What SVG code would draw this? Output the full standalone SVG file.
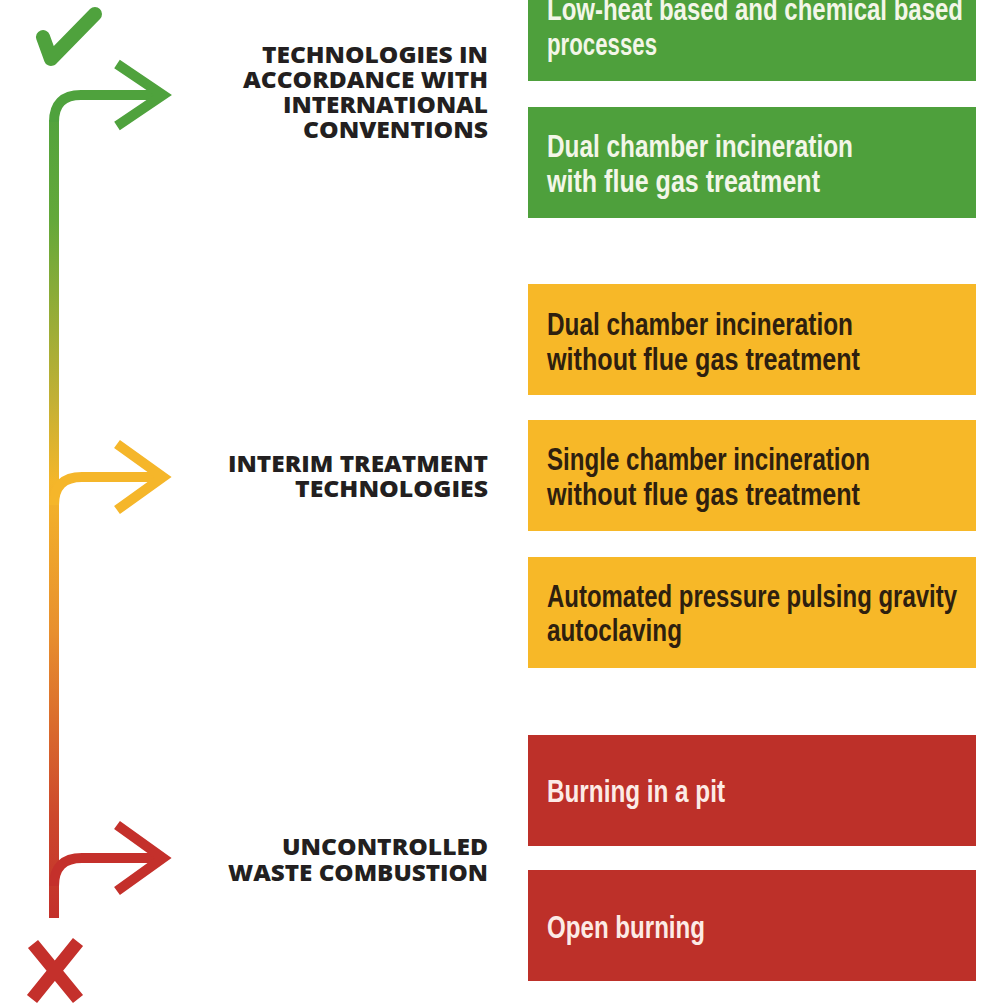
<svg xmlns="http://www.w3.org/2000/svg" width="983" height="1005" viewBox="0 0 983 1005">
<defs>
<linearGradient id="spine" gradientUnits="userSpaceOnUse" x1="0" y1="95" x2="0" y2="918">
<stop offset="0" stop-color="#4fa23d"/>
<stop offset="0.15" stop-color="#63a83a"/>
<stop offset="0.37" stop-color="#c2b035"/>
<stop offset="0.47" stop-color="#f4b62a"/>
<stop offset="0.65" stop-color="#e8902e"/>
<stop offset="0.88" stop-color="#cc472c"/>
<stop offset="1" stop-color="#c3302b"/>
</linearGradient>
<style>
.box-g{fill:#4ea03c}
.box-y{fill:#f7b828}
.box-r{fill:#bd3029}
.bt{font-family:"Liberation Sans Narrow","Liberation Sans",Arial,sans-serif;font-weight:700;font-size:31px}
.bt-g{fill:#f3f6e8}
.bt-y{fill:#2e1f0f}
.bt-r{fill:#fcebe6}
.lbl{font-family:"Open Sans","Liberation Sans",sans-serif;font-weight:800;font-size:23px;fill:#231f20;text-anchor:end}
.arr{fill:none;stroke-width:10;stroke-linejoin:miter;stroke-miterlimit:10}
</style>
</defs>
<rect width="983" height="1005" fill="#ffffff"/>

<g id="connectors">
<path d="M54,918 V120" stroke="url(#spine)" stroke-width="10" fill="none"/>
<path class="arr" d="M54,122 Q54,95 81,95 H160" stroke="#4fa23d"/>
<path class="arr" d="M117,64 L163,95 L117,126" stroke="#4fa23d"/>
<path class="arr" d="M54,505 Q54,477 82,477 H160" stroke="#f5b62a"/>
<path class="arr" d="M117,444 L163,477 L117,510" stroke="#f5b62a"/>
<path class="arr" d="M54,886 Q54,858 82,858 H160" stroke="#c4302b"/>
<path class="arr" d="M117,825 L163,858 L117,891" stroke="#c4302b"/>
</g>

<g id="check">
<path d="M43,37 L51,59 L95,14" fill="none" stroke="#4fa23d" stroke-width="14" stroke-linecap="round" stroke-linejoin="round"/>
</g>
<g id="cross">
<path d="M33,944 L78,999 M78,942 L32,999" fill="none" stroke="#c4302b" stroke-width="13"/>
</g>

<g id="label-international">
<text class="lbl" x="488" y="63" textLength="226" lengthAdjust="spacingAndGlyphs">TECHNOLOGIES IN</text>
<text class="lbl" x="488" y="88" textLength="245" lengthAdjust="spacingAndGlyphs">ACCORDANCE WITH</text>
<text class="lbl" x="488" y="113" textLength="205" lengthAdjust="spacingAndGlyphs">INTERNATIONAL</text>
<text class="lbl" x="488" y="138" textLength="185" lengthAdjust="spacingAndGlyphs">CONVENTIONS</text>
</g>
<g id="label-interim">
<text class="lbl" x="488" y="472" textLength="260" lengthAdjust="spacingAndGlyphs">INTERIM TREATMENT</text>
<text class="lbl" x="488" y="497" textLength="193" lengthAdjust="spacingAndGlyphs">TECHNOLOGIES</text>
</g>
<g id="label-uncontrolled">
<text class="lbl" x="488" y="855" textLength="206" lengthAdjust="spacingAndGlyphs">UNCONTROLLED</text>
<text class="lbl" x="488" y="881" textLength="260" lengthAdjust="spacingAndGlyphs">WASTE COMBUSTION</text>
</g>

<g id="node-lowheat">
<rect class="box-g" x="528" y="-30" width="448" height="111"/>
<text class="bt bt-g" x="547" y="20" textLength="416" lengthAdjust="spacingAndGlyphs">Low-heat based and chemical based</text>
<text class="bt bt-g" x="547" y="55" textLength="110" lengthAdjust="spacingAndGlyphs">processes</text>
</g>
<g id="node-dual-with">
<rect class="box-g" x="528" y="107" width="448" height="111"/>
<text class="bt bt-g" x="547" y="157" textLength="306" lengthAdjust="spacingAndGlyphs">Dual chamber incineration</text>
<text class="bt bt-g" x="547" y="192" textLength="273" lengthAdjust="spacingAndGlyphs">with flue gas treatment</text>
</g>
<g id="node-dual-without">
<rect class="box-y" x="528" y="284" width="448" height="111"/>
<text class="bt bt-y" x="547" y="335" textLength="306" lengthAdjust="spacingAndGlyphs">Dual chamber incineration</text>
<text class="bt bt-y" x="547" y="370" textLength="313" lengthAdjust="spacingAndGlyphs">without flue gas treatment</text>
</g>
<g id="node-single-without">
<rect class="box-y" x="528" y="420" width="448" height="111"/>
<text class="bt bt-y" x="547" y="470" textLength="323" lengthAdjust="spacingAndGlyphs">Single chamber incineration</text>
<text class="bt bt-y" x="547" y="505" textLength="313" lengthAdjust="spacingAndGlyphs">without flue gas treatment</text>
</g>
<g id="node-autoclave">
<rect class="box-y" x="528" y="557" width="448" height="111"/>
<text class="bt bt-y" x="547" y="607" textLength="410" lengthAdjust="spacingAndGlyphs">Automated pressure pulsing gravity</text>
<text class="bt bt-y" x="547" y="641" textLength="135" lengthAdjust="spacingAndGlyphs">autoclaving</text>
</g>
<g id="node-pit">
<rect class="box-r" x="528" y="735" width="448" height="111"/>
<text class="bt bt-r" x="547" y="802" textLength="178" lengthAdjust="spacingAndGlyphs">Burning in a pit</text>
</g>
<g id="node-open">
<rect class="box-r" x="528" y="870" width="448" height="111"/>
<text class="bt bt-r" x="547" y="938" textLength="158" lengthAdjust="spacingAndGlyphs">Open burning</text>
</g>
</svg>
